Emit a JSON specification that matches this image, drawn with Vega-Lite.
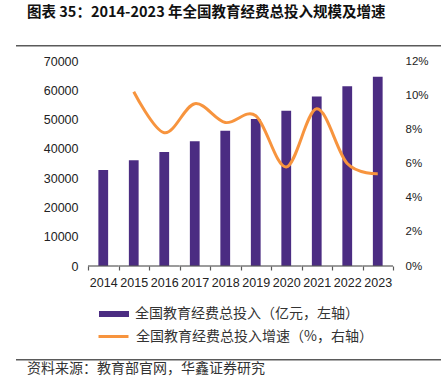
{
  "$schema": "https://vega.github.io/schema/vega-lite/v6.json",
  "background": "white",
  "padding": {"left": 16, "top": 4, "right": 0, "bottom": 2},
  "bounds": "full",
  "spacing": 8,
  "config": {
    "view": {"stroke": null},
    "font": "Noto Sans CJK SC",
    "axis": {"labelFont": "Liberation Sans", "labelColor": "#222", "grid": false}
  },
  "datasets": {
    "edu": [
      {"year": "2014", "invest": 32806, "growth": null},
      {"year": "2015", "invest": 36129, "growth": 10.2},
      {"year": "2016", "invest": 38888, "growth": 7.8},
      {"year": "2017", "invest": 42562, "growth": 9.5},
      {"year": "2018", "invest": 46143, "growth": 8.4},
      {"year": "2019", "invest": 50178, "growth": 8.8},
      {"year": "2020", "invest": 53034, "growth": 5.8},
      {"year": "2021", "invest": 57874, "growth": 9.2},
      {"year": "2022", "invest": 61344, "growth": 6.0},
      {"year": "2023", "invest": 64595, "growth": 5.4}
    ]
  },
  "vconcat": [
    {
      "width": 425,
      "height": 1.5,
      "view": {"fill": "#5a5a5a", "stroke": null},
      "title": {
        "text": "图表 35：2014-2023 年全国教育经费总投入规模及增速",
        "anchor": "start",
        "frame": "group",
        "offset": 25,
        "dx": 11,
        "fontSize": 14.5,
        "fontWeight": "bold",
        "font": "Noto Sans CJK SC",
        "color": "#111"
      },
      "data": {"values": []},
      "mark": "point",
      "encoding": {}
    },
    {
      "width": 425,
      "height": 205,
      "data": {"name": "edu"},
      "encoding": {
        "x": {
          "field": "year",
          "type": "ordinal",
          "scale": {"range": [72, 377], "paddingInner": 0, "paddingOuter": 0},
          "axis": {
            "title": null,
            "domain": false,
            "labelAngle": 0,
            "labelFontSize": 12.5,
            "labelPadding": 6,
            "tickBand": "extent",
            "tickSize": 4,
            "tickColor": "#595959",
            "tickWidth": 1.2
          }
        }
      },
      "layer": [
        {
          "layer": [
            {
              "mark": {"type": "bar", "width": {"band": 0.32}},
              "encoding": {
                "y": {
                  "field": "invest",
                  "type": "quantitative",
                  "scale": {"domain": [0, 70000], "nice": false},
                  "axis": {
                    "orient": "left",
                    "offset": -72,
                    "title": null,
                    "values": [0, 10000, 20000, 30000, 40000, 50000, 60000, 70000],
                    "format": "d",
                    "domain": false,
                    "ticks": false,
                    "labelOverlap": false,
                    "labelPadding": 10,
                    "labelFontSize": 12.5
                  }
                },
                "color": {
                  "datum": "全国教育经费总投入（亿元，左轴）",
                  "scale": {"range": ["#4B2C82"]},
                  "legend": {
                    "orient": "none",
                    "legendX": 83,
                    "legendY": 238,
                    "title": null,
                    "symbolType": "M-1,-0.2H1V0.2H-1Z",
                    "symbolSize": 900,
                    "symbolStrokeWidth": 0,
                    "labelFont": "Noto Sans CJK SC",
                    "labelFontSize": 14,
                    "labelColor": "#333",
                    "labelOffset": 6,
                    "labelLimit": 400
                  }
                }
              }
            },
            {
              "mark": {"type": "rule", "color": "#595959", "strokeWidth": 1.2},
              "encoding": {
                "x": {"field": "year", "type": "ordinal", "bandPosition": 0},
                "x2": {"field": "year", "bandPosition": 1},
                "y": {
                  "datum": 0,
                  "type": "quantitative",
                  "axis": {
                    "orient": "left",
                    "offset": -72,
                    "title": null,
                    "values": [0, 10000, 20000, 30000, 40000, 50000, 60000, 70000],
                    "format": "d",
                    "domain": false,
                    "ticks": false,
                    "labelOverlap": false,
                    "labelPadding": 10,
                    "labelFontSize": 12.5
                  }
                }
              }
            }
          ]
        },
        {
          "mark": {"type": "line", "interpolate": "cardinal", "strokeWidth": 3},
          "encoding": {
            "y": {
              "field": "growth",
              "type": "quantitative",
              "scale": {"domain": [0, 12], "nice": false},
              "axis": {
                "orient": "right",
                "offset": -48,
                "title": null,
                "values": [0, 2, 4, 6, 8, 10, 12],
                "labelExpr": "datum.value + '%'",
                "domain": false,
                "ticks": false,
                "labelOverlap": false,
                "labelPadding": 12,
                "labelFontSize": 11.5
              }
            },
            "stroke": {
              "datum": "全国教育经费总投入增速（%，右轴）",
              "scale": {"range": ["#F7943E"]},
              "legend": {
                "orient": "none",
                "legendX": 74,
                "legendY": 252,
                "padding": 7,
                "title": null,
                "symbolType": "stroke",
                "symbolSize": 900,
                "symbolStrokeWidth": 3,
                "labelFont": "Noto Sans CJK SC",
                "labelFontSize": 14,
                "labelColor": "#333",
                "labelOffset": 6,
                "labelLimit": 400
              }
            }
          }
        }
      ],
      "resolve": {"scale": {"y": "independent", "color": "independent", "stroke": "independent"}}
    },
    {
      "width": 425,
      "height": 1.5,
      "view": {"fill": "#5a5a5a", "stroke": null},
      "title": {
        "text": "资料来源：教育部官网，华鑫证券研究",
        "orient": "bottom",
        "anchor": "start",
        "frame": "group",
        "offset": 1,
        "dx": 11,
        "fontSize": 14,
        "fontWeight": "normal",
        "font": "Noto Sans CJK SC",
        "color": "#333"
      },
      "data": {"values": []},
      "mark": "point",
      "encoding": {}
    }
  ]
}
